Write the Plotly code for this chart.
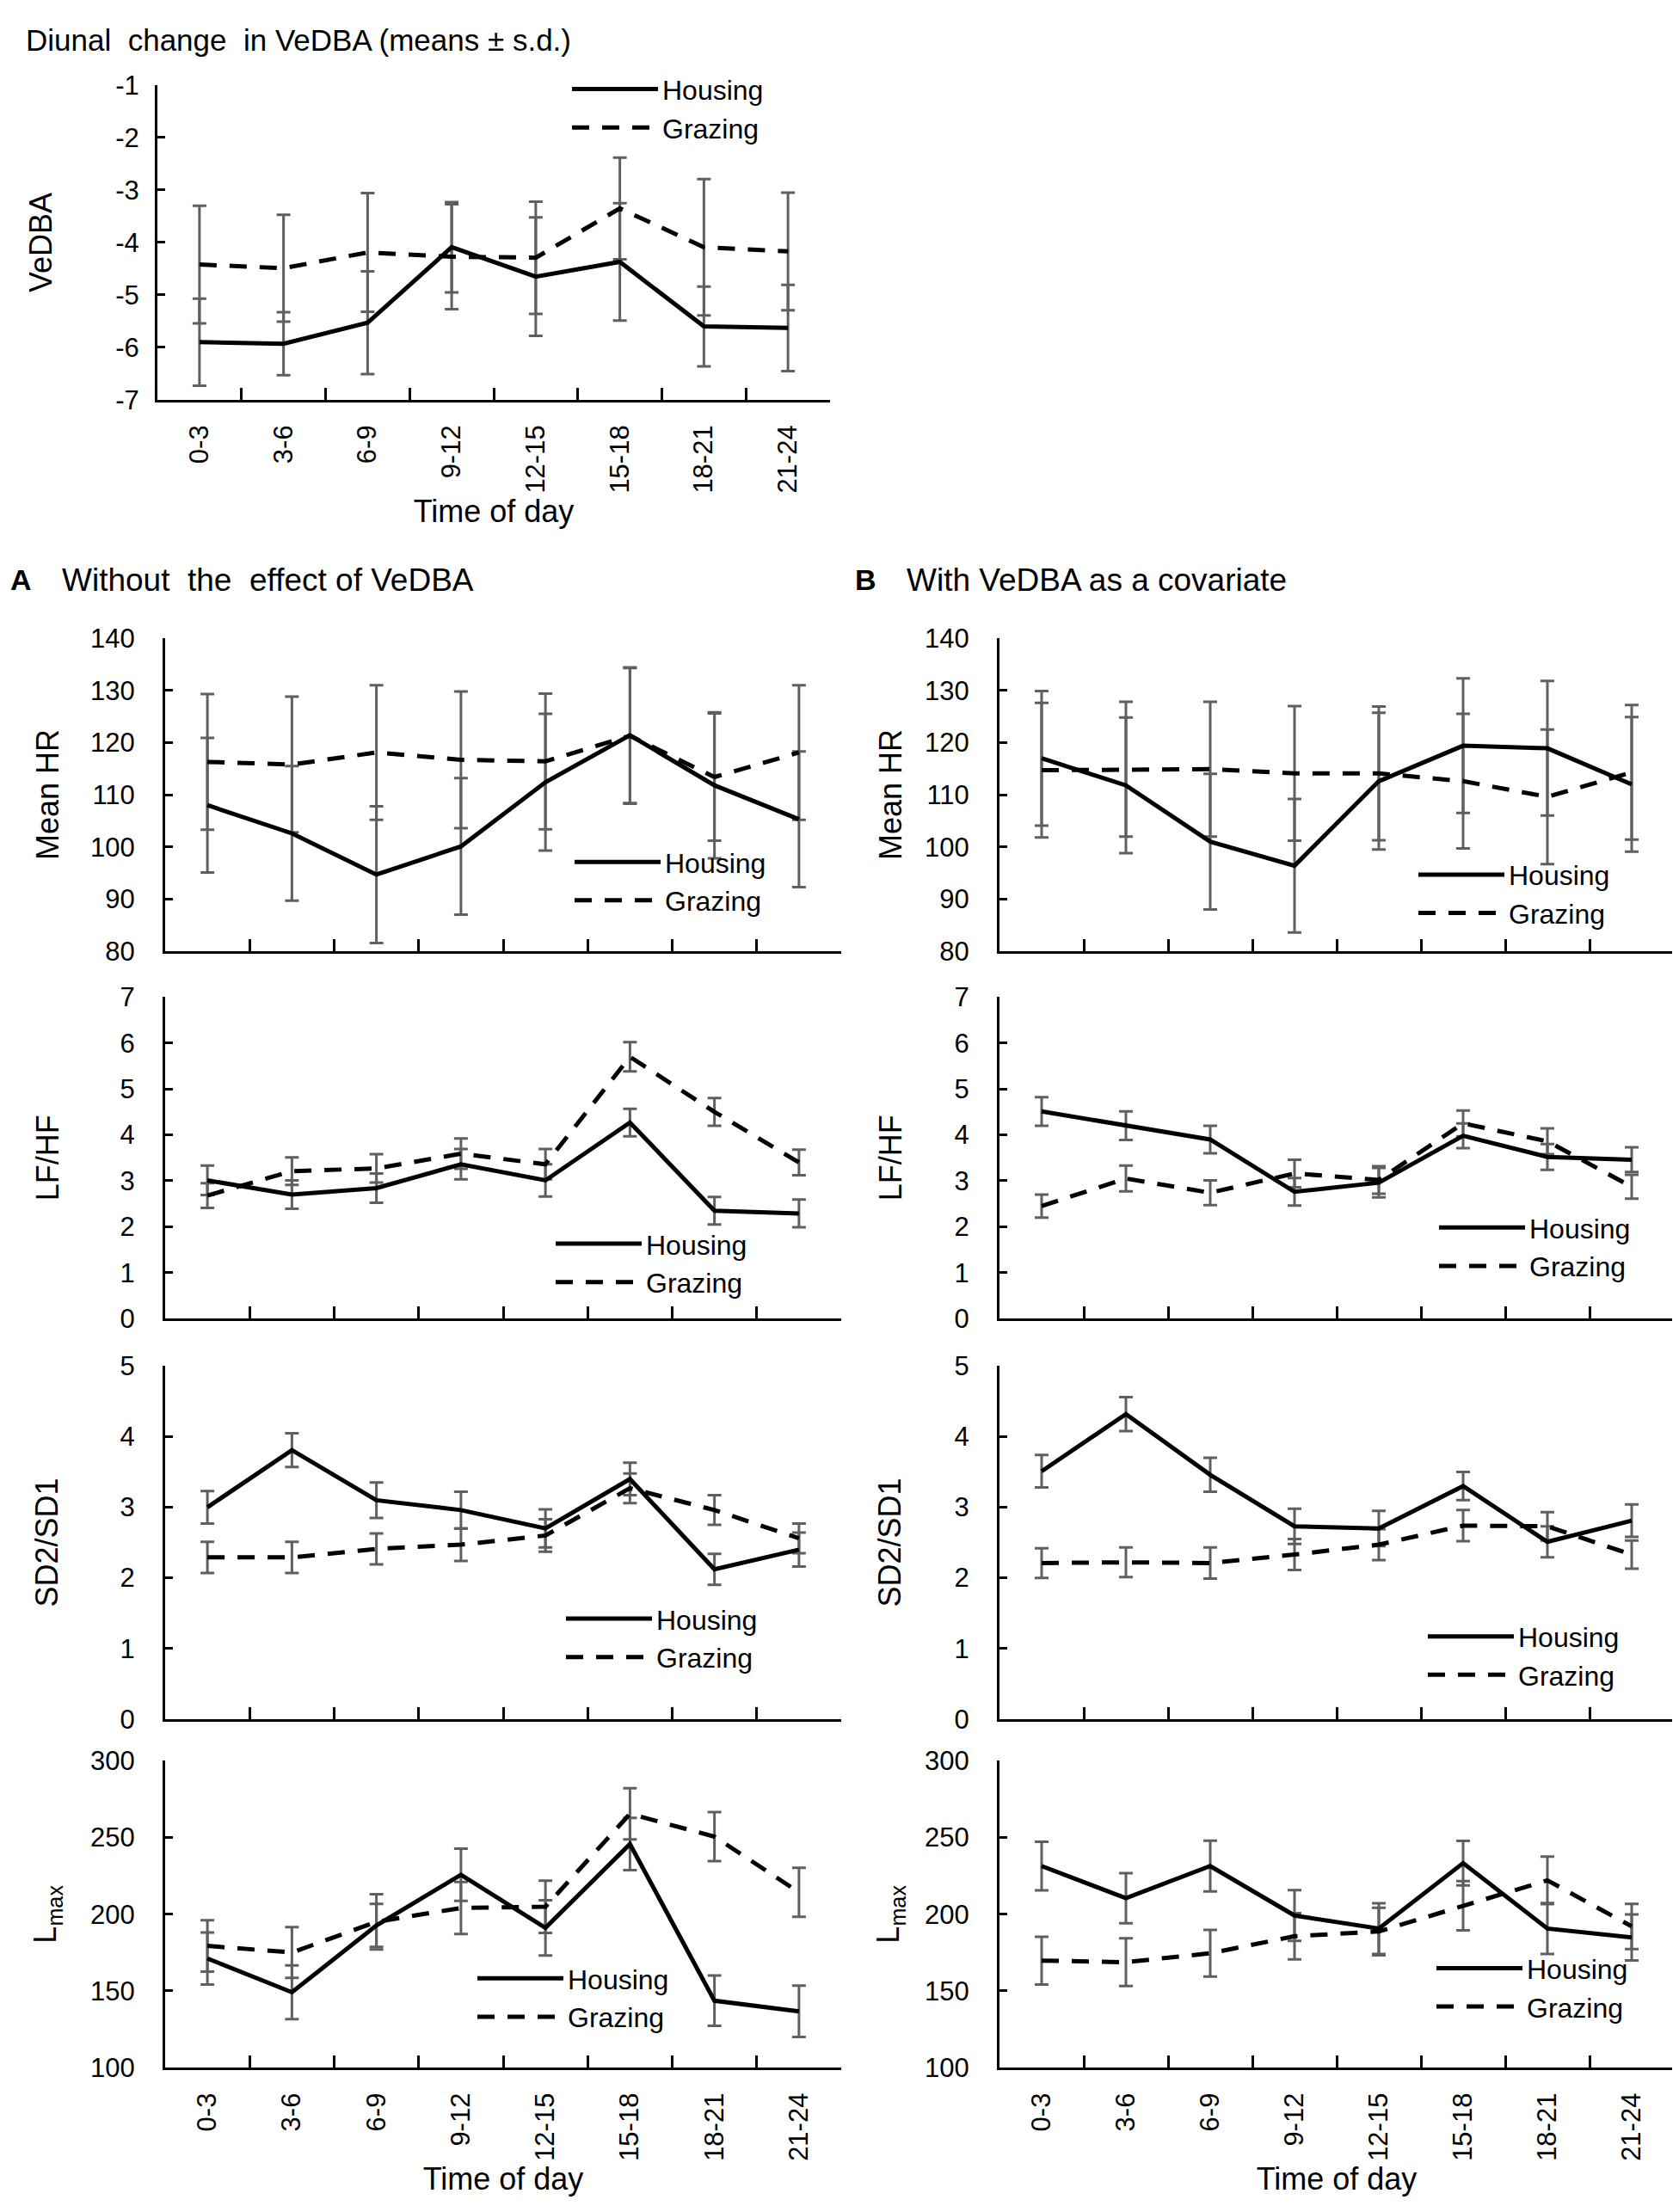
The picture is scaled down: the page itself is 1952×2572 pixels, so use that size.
import plotly.graph_objects as go

# ---------------- data ----------------
categories = ["0-3", "3-6", "6-9", "9-12", "12-15", "15-18", "18-21", "21-24"]

vedba_housing = [-5.90, -5.93, -5.53, -4.09, -4.65, -4.37, -5.60, -5.63]
vedba_housing_sd = [0.83, 0.60, 0.98, 0.86, 1.13, 1.12, 0.76, 0.82]
vedba_grazing = [-4.42, -4.49, -4.19, -4.27, -4.29, -3.35, -4.09, -4.17]
vedba_grazing_sd = [1.12, 1.02, 1.13, 1.00, 1.07, 0.97, 1.30, 1.12]
vedba_tickvals = [-7, -6, -5, -4, -3, -2, -1]
vedba_ticktext = ["-7", "-6", "-5", "-4", "-3", "-2", "-1"]

hrA_housing = [108.0, 102.6, 94.7, 100.1, 112.4, 121.4, 111.8, 105.3]
hrA_housing_sd = [12.9, 12.9, 13.1, 13.1, 13.1, 13.0, 14.0, 13.0]
hrA_grazing = [116.3, 115.8, 118.1, 116.7, 116.4, 121.3, 113.4, 118.1]
hrA_grazing_sd = [13.0, 13.0, 12.9, 13.1, 13.0, 13.0, 12.2, 12.9]

hrB_housing = [117.0, 111.8, 101.0, 96.4, 112.6, 119.4, 118.9, 112.0]
hrB_housing_sd = [12.9, 13.0, 13.0, 12.8, 13.1, 12.9, 12.9, 12.9]
hrB_grazing = [114.7, 114.9, 114.9, 114.1, 114.1, 112.6, 109.6, 114.3]
hrB_grazing_sd = [12.9, 12.9, 12.9, 12.9, 12.8, 12.9, 12.9, 12.9]

lfA_housing = [3.01, 2.70, 2.84, 3.36, 3.01, 4.27, 2.35, 2.29]
lfA_housing_sd = [0.32, 0.31, 0.32, 0.33, 0.35, 0.30, 0.30, 0.30]
lfA_grazing = [2.68, 3.21, 3.27, 3.59, 3.36, 5.70, 4.50, 3.40]
lfA_grazing_sd = [0.27, 0.30, 0.31, 0.33, 0.33, 0.32, 0.30, 0.28]

lfB_housing = [4.51, 4.20, 3.90, 2.76, 2.96, 3.98, 3.52, 3.46]
lfB_housing_sd = [0.31, 0.31, 0.30, 0.30, 0.32, 0.27, 0.28, 0.27]
lfB_grazing = [2.45, 3.05, 2.74, 3.16, 3.02, 4.25, 3.86, 2.87]
lfB_grazing_sd = [0.25, 0.28, 0.27, 0.30, 0.30, 0.28, 0.28, 0.26]

sdA_housing = [3.00, 3.81, 3.10, 2.96, 2.70, 3.40, 2.12, 2.40]
sdA_housing_sd = [0.23, 0.24, 0.25, 0.26, 0.27, 0.23, 0.22, 0.24]
sdA_grazing = [2.29, 2.29, 2.41, 2.47, 2.60, 3.27, 2.96, 2.56]
sdA_grazing_sd = [0.22, 0.22, 0.22, 0.23, 0.23, 0.21, 0.21, 0.21]

sdB_housing = [3.51, 4.32, 3.46, 2.73, 2.70, 3.30, 2.51, 2.81]
sdB_housing_sd = [0.23, 0.24, 0.24, 0.25, 0.25, 0.20, 0.22, 0.23]
sdB_grazing = [2.21, 2.22, 2.21, 2.33, 2.47, 2.74, 2.73, 2.33]
sdB_grazing_sd = [0.21, 0.21, 0.22, 0.22, 0.22, 0.22, 0.20, 0.20]

lmA_housing = [171.1, 149.1, 192.6, 225.6, 191.1, 245.6, 143.6, 136.7]
lmA_housing_sd = [17.0, 17.5, 14.0, 17.0, 18.0, 17.0, 16.4, 16.7]
lmA_grazing = [179.3, 175.0, 195.0, 204.0, 204.8, 265.3, 250.5, 214.2]
lmA_grazing_sd = [16.7, 16.5, 18.0, 17.0, 17.0, 16.7, 16.0, 16.0]

lmB_housing = [231.3, 210.4, 231.3, 199.1, 190.6, 233.2, 190.6, 184.8]
lmB_housing_sd = [15.8, 16.3, 16.5, 16.5, 16.5, 14.5, 16.6, 15.0]
lmB_grazing = [169.7, 168.7, 174.5, 185.6, 188.7, 205.5, 222.0, 192.0]
lmB_grazing_sd = [15.5, 15.5, 15.2, 15.0, 15.5, 16.0, 15.5, 14.7]

# ---------------- layout helpers ----------------
W, H = 1952, 2572
FONT = "Liberation Sans, Arial, sans-serif"
ERR_COLOR = "#5f5f5f"
TICK_SIZE = 31
LEG_FONT = 32
LEG_DX = 14      # legend box left -> start of line sample
LEG_DY = 50      # legend box top -> centre of first row


def px_x(v):
    return v / W


def px_y(v):
    return 1 - v / H


XA = (184, 970)
XB = (1154, 1938)
Y_HR = (727, 1096)
Y_LF = (1150, 1529)
Y_SD = (1585, 2001)
Y_LM = (2050, 2412)

panels = [
    dict(h=vedba_housing, hs=vedba_housing_sd, g=vedba_grazing, gs=vedba_grazing_sd,
         rng=[-7, -1], tv=vedba_tickvals, tt=vedba_ticktext, title="VeDBA",
         xd=(175, 957), yd=(75, 446), labels=True, leg=(666, 102), ytx=40, ystand=12),
    dict(h=hrA_housing, hs=hrA_housing_sd, g=hrA_grazing, gs=hrA_grazing_sd,
         rng=[80, 140], dtick=10, title="Mean HR", xd=XA, yd=Y_HR,
         labels=False, leg=(669, 1013), ytx=47, ystand=26),
    dict(h=hrB_housing, hs=hrB_housing_sd, g=hrB_grazing, gs=hrB_grazing_sd,
         rng=[80, 140], dtick=10, title="Mean HR", xd=XB, yd=Y_HR,
         labels=False, leg=(1650, 1028), ytx=1027, ystand=26),
    dict(h=lfA_housing, hs=lfA_housing_sd, g=lfA_grazing, gs=lfA_grazing_sd,
         rng=[0, 7], dtick=1, title="LF/HF", xd=XA, yd=Y_LF,
         labels=False, leg=(647, 1463), ytx=47, ystand=26),
    dict(h=lfB_housing, hs=lfB_housing_sd, g=lfB_grazing, gs=lfB_grazing_sd,
         rng=[0, 7], dtick=1, title="LF/HF", xd=XB, yd=Y_LF,
         labels=False, leg=(1674, 1444), ytx=1027, ystand=26),
    dict(h=sdA_housing, hs=sdA_housing_sd, g=sdA_grazing, gs=sdA_grazing_sd,
         rng=[0, 5], dtick=1, title="SD2/SD1", xd=XA, yd=Y_SD,
         labels=False, leg=(659, 1905), ytx=47, ystand=26),
    dict(h=sdB_housing, hs=sdB_housing_sd, g=sdB_grazing, gs=sdB_grazing_sd,
         rng=[0, 5], dtick=1, title="SD2/SD1", xd=XB, yd=Y_SD,
         labels=False, leg=(1661, 1926), ytx=1027, ystand=26),
    dict(h=lmA_housing, hs=lmA_housing_sd, g=lmA_grazing, gs=lmA_grazing_sd,
         rng=[100, 300], dtick=50, title="L<sub>max</sub>", xd=XA, yd=Y_LM,
         labels=True, leg=(556, 2329), ytx=47, ystand=26),
    dict(h=lmB_housing, hs=lmB_housing_sd, g=lmB_grazing, gs=lmB_grazing_sd,
         rng=[100, 300], dtick=50, title="L<sub>max</sub>", xd=XB, yd=Y_LM,
         labels=True, leg=(1671, 2317), ytx=1027, ystand=26),
]

fig = go.Figure()
layout = dict(
    width=W, height=H,
    margin=dict(l=0, r=0, t=0, b=0),
    paper_bgcolor="white", plot_bgcolor="white",
    font=dict(family=FONT, size=TICK_SIZE, color="black"),
    annotations=[],
)

for i, p in enumerate(panels, start=1):
    sfx = "" if i == 1 else str(i)
    xa, ya = "x" + sfx, "y" + sfx
    leg = "legend" + sfx

    for vals, sds in ((p["g"], p["gs"]), (p["h"], p["hs"])):
        fig.add_trace(go.Scatter(
            x=categories, y=vals, mode="markers",
            marker=dict(size=1, color="rgba(0,0,0,0)"),
            error_y=dict(type="data", array=sds, visible=True, color=ERR_COLOR,
                         thickness=3, width=8),
            showlegend=False, hoverinfo="skip", xaxis=xa, yaxis=ya,
        ))
    fig.add_trace(go.Scatter(
        x=categories, y=p["h"], mode="lines", name="Housing",
        line=dict(color="black", width=5), xaxis=xa, yaxis=ya, legend=leg,
    ))
    fig.add_trace(go.Scatter(
        x=categories, y=p["g"], mode="lines", name="Grazing",
        line=dict(color="black", width=5, dash="20px,15px"), xaxis=xa, yaxis=ya, legend=leg,
    ))

    xaxis = dict(
        type="category", categoryorder="array", categoryarray=categories,
        range=[-0.5, 7.5], tickson="boundaries", ticks="inside", ticklen=14,
        tickwidth=3, tickcolor="black", showline=True, linewidth=3, linecolor="black",
        showgrid=False, zeroline=False, tickangle=-90, showticklabels=p["labels"],
        tickfont=dict(size=TICK_SIZE), ticklabelstandoff=14,
        domain=[px_x(p["xd"][0]), px_x(p["xd"][1])], anchor=ya,
    )
    if p["labels"]:
        xaxis["title"] = dict(text="Time of day", font=dict(size=36), standoff=4)
    yaxis = dict(
        range=p["rng"], ticks="inside", ticklen=9, tickwidth=3,
        tickcolor="black", showline=True, linewidth=3, linecolor="black",
        showgrid=False, zeroline=False, tickfont=dict(size=TICK_SIZE),
        ticklabelstandoff=p["ystand"],
        domain=[px_y(p["yd"][1]), px_y(p["yd"][0])], anchor=xa,
    )
    if "tv" in p:
        yaxis["tickvals"] = p["tv"]
        yaxis["ticktext"] = p["tt"]
    else:
        yaxis["dtick"] = p["dtick"]
    layout["xaxis" + sfx] = xaxis
    layout["yaxis" + sfx] = yaxis
    layout[leg] = dict(
        x=px_x(p["leg"][0] - LEG_DX), y=px_y(p["leg"][1] - LEG_DY),
        xanchor="left", yanchor="top",
        bgcolor="rgba(0,0,0,0)", borderwidth=0, font=dict(size=LEG_FONT),
        itemwidth=100, tracegroupgap=0,
    )
    layout["annotations"].append(dict(
        text=p["title"], textangle=-90, xref="paper", yref="paper",
        x=px_x(p["ytx"]), y=px_y((p["yd"][0] + p["yd"][1]) / 2),
        xanchor="center", yanchor="middle", showarrow=False, font=dict(size=36),
    ))

layout["annotations"] += [
    dict(text="Diunal  change  in VeDBA (means ± s.d.)", xref="paper", yref="paper",
         x=px_x(20), y=px_y(22), xanchor="left", yanchor="middle", showarrow=False,
         font=dict(size=35)),
    dict(text="<b>A</b>", xref="paper", yref="paper", x=px_x(2), y=px_y(658),
         xanchor="left", yanchor="middle", showarrow=False, font=dict(size=34)),
    dict(text="Without  the  effect of VeDBA", xref="paper", yref="paper", x=px_x(62),
         y=px_y(658), xanchor="left", yanchor="middle", showarrow=False, font=dict(size=37)),
    dict(text="<b>B</b>", xref="paper", yref="paper", x=px_x(984), y=px_y(658),
         xanchor="left", yanchor="middle", showarrow=False, font=dict(size=34)),
    dict(text="With VeDBA as a covariate", xref="paper", yref="paper", x=px_x(1044),
         y=px_y(658), xanchor="left", yanchor="middle", showarrow=False, font=dict(size=37)),
]

fig.update_layout(**layout)
fig.write_html("out.html")
